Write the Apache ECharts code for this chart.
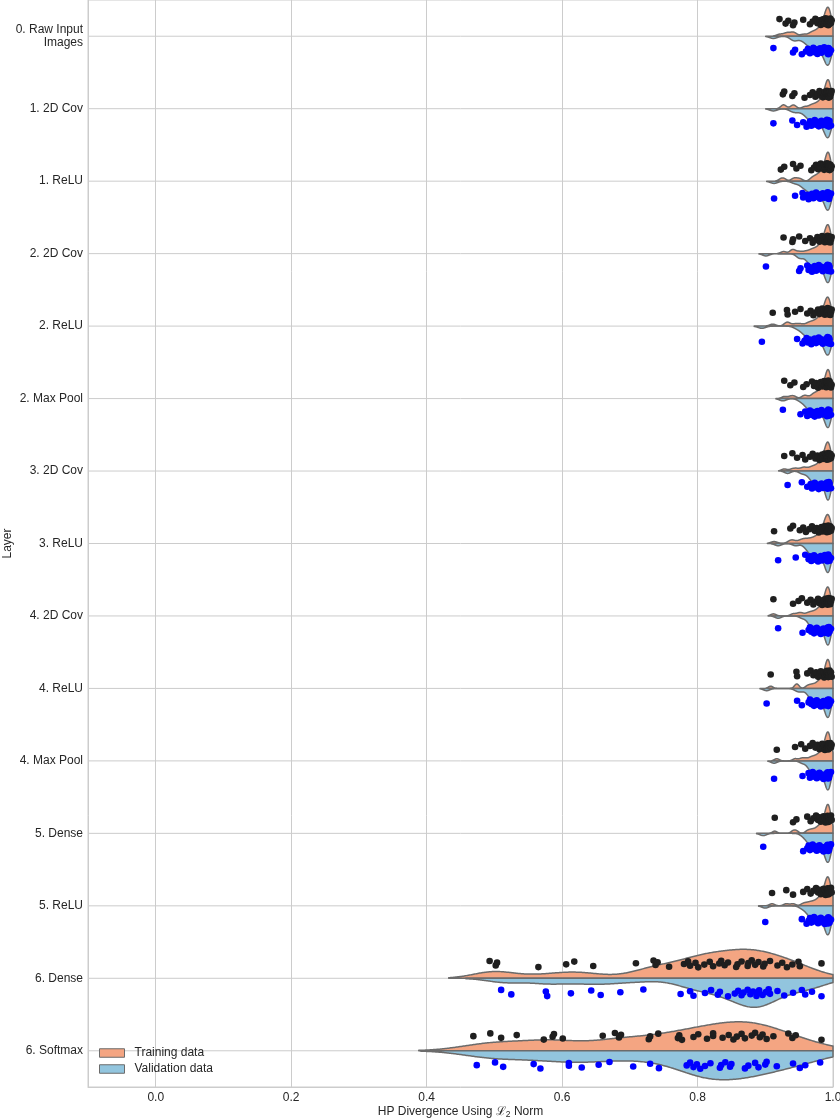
<!DOCTYPE html>
<html><head><meta charset="utf-8">
<script src="https://cdn.jsdelivr.net/npm/echarts@6/dist/echarts.min.js"></script>
<style>html,body{margin:0;padding:0;background:#fff}#chart{width:840px;height:1120px}</style>
</head><body><div id="chart"></div>
<script>
// ---------------- DATA ----------------
const categories = ['0. Raw Input\nImages', '1. 2D Cov', '1. ReLU', '2. 2D Cov', '2. ReLU', '2. Max Pool',
  '3. 2D Cov', '3. ReLU', '4. 2D Cov', '4. ReLU', '4. Max Pool', '5. Dense', '5. ReLU', '6. Dense', '6. Softmax'];

const trainValues = [
  [0.921,0.930,0.934,0.941,0.943,0.956,0.966,0.970,0.974,0.977,0.980,0.982,0.984,0.985,0.987,0.988,0.989,0.990,0.991,0.991,0.992,0.992,0.993,0.993,0.993,0.994,0.994,0.995,0.995,0.996,0.997,0.998],
  [0.926,0.928,0.940,0.943,0.958,0.966,0.970,0.974,0.977,0.980,0.982,0.984,0.985,0.987,0.988,0.989,0.990,0.991,0.991,0.992,0.992,0.993,0.993,0.993,0.994,0.994,0.995,0.995,0.996,0.997,0.998],
  [0.923,0.928,0.941,0.946,0.952,0.968,0.972,0.975,0.978,0.980,0.982,0.984,0.986,0.987,0.988,0.989,0.990,0.991,0.991,0.992,0.992,0.993,0.993,0.993,0.994,0.994,0.995,0.995,0.996,0.997,0.998],
  [0.927,0.940,0.941,0.950,0.959,0.966,0.970,0.974,0.977,0.980,0.982,0.984,0.985,0.987,0.988,0.989,0.990,0.991,0.991,0.992,0.992,0.993,0.993,0.993,0.994,0.994,0.995,0.996,0.997,0.998],
  [0.911,0.932,0.933,0.944,0.952,0.962,0.967,0.971,0.975,0.978,0.980,0.982,0.984,0.986,0.987,0.988,0.989,0.990,0.991,0.991,0.992,0.992,0.993,0.993,0.993,0.994,0.994,0.995,0.996,0.997,0.998],
  [0.928,0.937,0.943,0.956,0.961,0.969,0.972,0.975,0.978,0.980,0.982,0.984,0.985,0.987,0.988,0.989,0.990,0.991,0.991,0.992,0.992,0.993,0.993,0.993,0.994,0.994,0.995,0.995,0.996,0.997,0.998],
  [0.928,0.940,0.947,0.955,0.959,0.966,0.970,0.974,0.977,0.980,0.982,0.984,0.985,0.987,0.988,0.989,0.990,0.991,0.991,0.992,0.992,0.993,0.993,0.993,0.994,0.994,0.995,0.996,0.997,0.998],
  [0.913,0.937,0.941,0.951,0.956,0.960,0.965,0.969,0.973,0.976,0.979,0.981,0.983,0.985,0.987,0.988,0.989,0.990,0.991,0.991,0.992,0.992,0.993,0.993,0.993,0.994,0.994,0.995,0.996,0.997,0.998],
  [0.912,0.941,0.949,0.954,0.962,0.967,0.971,0.975,0.978,0.980,0.982,0.984,0.986,0.987,0.988,0.989,0.990,0.991,0.991,0.992,0.992,0.993,0.993,0.993,0.994,0.994,0.995,0.996,0.997,0.998],
  [0.908,0.946,0.947,0.962,0.967,0.971,0.975,0.978,0.980,0.982,0.984,0.986,0.987,0.988,0.989,0.990,0.991,0.991,0.992,0.992,0.993,0.993,0.993,0.994,0.994,0.995,0.996,0.997,0.998],
  [0.917,0.944,0.953,0.959,0.966,0.970,0.974,0.977,0.980,0.982,0.984,0.985,0.987,0.988,0.989,0.990,0.991,0.991,0.992,0.992,0.993,0.993,0.993,0.994,0.994,0.995,0.996,0.997,0.998],
  [0.914,0.941,0.946,0.962,0.967,0.971,0.975,0.978,0.980,0.982,0.984,0.986,0.987,0.988,0.989,0.990,0.991,0.991,0.992,0.992,0.993,0.993,0.993,0.994,0.994,0.995,0.996,0.997,0.998],
  [0.910,0.931,0.941,0.956,0.962,0.967,0.971,0.975,0.978,0.980,0.982,0.984,0.986,0.987,0.988,0.989,0.990,0.991,0.991,0.992,0.992,0.993,0.993,0.993,0.994,0.994,0.995,0.996,0.997,0.998],
  [0.493,0.502,0.504,0.565,0.606,0.618,0.646,0.709,0.735,0.738,0.741,0.758,0.780,0.786,0.789,0.797,0.801,0.810,0.818,0.823,0.832,0.835,0.840,0.845,0.857,0.859,0.865,0.874,0.875,0.880,0.885,0.890,0.897,0.899,0.907,0.918,0.925,0.932,0.940,0.949,0.951,0.983],
  [0.469,0.494,0.510,0.533,0.573,0.586,0.588,0.601,0.660,0.678,0.684,0.687,0.728,0.730,0.742,0.771,0.773,0.777,0.794,0.801,0.814,0.823,0.823,0.837,0.846,0.853,0.858,0.865,0.870,0.880,0.885,0.892,0.896,0.902,0.912,0.934,0.940,0.945,0.983]
];

const validationValues = [
  [0.912,0.941,0.944,0.954,0.960,0.963,0.966,0.968,0.971,0.973,0.975,0.977,0.979,0.981,0.983,0.985,0.987,0.991,0.992,0.992,0.992,0.993,0.993,0.993,0.993,0.994,0.994,0.995,0.997],
  [0.912,0.940,0.947,0.956,0.961,0.964,0.966,0.968,0.971,0.973,0.975,0.977,0.979,0.981,0.983,0.985,0.987,0.991,0.992,0.992,0.992,0.993,0.993,0.993,0.993,0.994,0.994,0.995,0.997],
  [0.913,0.944,0.955,0.956,0.962,0.964,0.966,0.969,0.971,0.973,0.975,0.977,0.979,0.981,0.983,0.985,0.987,0.991,0.992,0.992,0.992,0.993,0.993,0.993,0.993,0.994,0.994,0.995,0.997],
  [0.901,0.950,0.952,0.962,0.964,0.966,0.969,0.971,0.973,0.975,0.977,0.979,0.981,0.983,0.985,0.987,0.991,0.992,0.992,0.992,0.993,0.993,0.993,0.993,0.994,0.994,0.995,0.997],
  [0.895,0.947,0.955,0.958,0.961,0.963,0.966,0.968,0.971,0.973,0.975,0.977,0.979,0.981,0.983,0.985,0.987,0.991,0.992,0.992,0.992,0.993,0.993,0.993,0.993,0.994,0.994,0.995,0.997],
  [0.926,0.952,0.959,0.962,0.964,0.966,0.969,0.971,0.973,0.975,0.977,0.979,0.981,0.983,0.985,0.987,0.991,0.992,0.992,0.992,0.993,0.993,0.993,0.993,0.994,0.994,0.995,0.997],
  [0.933,0.954,0.962,0.967,0.969,0.971,0.973,0.975,0.977,0.979,0.981,0.983,0.985,0.987,0.991,0.992,0.992,0.992,0.993,0.993,0.993,0.993,0.994,0.994,0.995,0.997],
  [0.919,0.945,0.959,0.964,0.966,0.968,0.970,0.972,0.974,0.976,0.978,0.980,0.982,0.984,0.986,0.988,0.991,0.992,0.992,0.992,0.993,0.993,0.993,0.993,0.994,0.994,0.995,0.997],
  [0.919,0.955,0.964,0.966,0.968,0.970,0.972,0.974,0.976,0.978,0.980,0.982,0.984,0.986,0.988,0.991,0.992,0.992,0.992,0.993,0.993,0.993,0.993,0.994,0.994,0.995,0.997],
  [0.902,0.947,0.954,0.964,0.966,0.968,0.970,0.972,0.974,0.976,0.978,0.980,0.982,0.984,0.986,0.988,0.991,0.992,0.992,0.992,0.993,0.993,0.993,0.993,0.994,0.994,0.995,0.997],
  [0.913,0.955,0.964,0.966,0.968,0.970,0.972,0.974,0.976,0.978,0.980,0.982,0.984,0.986,0.988,0.991,0.992,0.992,0.992,0.993,0.993,0.993,0.993,0.994,0.994,0.995,0.997],
  [0.897,0.956,0.962,0.964,0.966,0.968,0.970,0.972,0.974,0.976,0.978,0.980,0.982,0.984,0.986,0.988,0.991,0.992,0.992,0.992,0.993,0.993,0.993,0.993,0.994,0.994,0.995,0.997],
  [0.900,0.954,0.961,0.964,0.966,0.968,0.970,0.972,0.974,0.976,0.978,0.980,0.982,0.984,0.986,0.988,0.991,0.992,0.992,0.992,0.993,0.993,0.993,0.993,0.994,0.994,0.995,0.997],
  [0.510,0.525,0.576,0.578,0.613,0.643,0.657,0.686,0.720,0.775,0.789,0.794,0.811,0.820,0.830,0.833,0.845,0.855,0.860,0.865,0.868,0.874,0.878,0.882,0.887,0.890,0.891,0.896,0.901,0.905,0.907,0.918,0.928,0.941,0.954,0.959,0.969,0.983],
  [0.474,0.501,0.513,0.558,0.568,0.610,0.610,0.629,0.654,0.670,0.705,0.730,0.743,0.784,0.789,0.794,0.799,0.804,0.811,0.819,0.833,0.835,0.841,0.848,0.850,0.870,0.875,0.885,0.890,0.900,0.902,0.917,0.941,0.951,0.959,0.981]
];

const seriesNames = ['Training data', 'Validation data'];

// ---------------- STYLE ----------------
const FONT = '"Liberation Sans", Arial, sans-serif';
const TEXT = '#262626';
const GRIDC = '#cccccc';
const TRAIN_FILL = '#f4a582', VALID_FILL = '#92c5de', EDGE = '#6b6b6b';
const TRAIN_DOT = '#1f1f1f', VALID_DOT = '#0000ff';
const X_MIN = -0.1, X_MAX = 1.0;
const BW_ADJ = 0.6, CUT = 2, HALF = 0.4, DOT_OFF = 0.2, JIT = 0.05;

// ---------------- KDE (derived from the values; robust Silverman-style spread) ----------------
function quantile(sorted, q) {
  const p = (sorted.length - 1) * q, i = Math.floor(p), f = p - i;
  return i + 1 < sorted.length ? sorted[i] * (1 - f) + sorted[i + 1] * f : sorted[i];
}
function kde(vals) {
  const n = vals.length;
  const s = vals.slice().sort((a, b) => a - b);
  const mean = vals.reduce((a, b) => a + b, 0) / n;
  const sd = Math.sqrt(vals.reduce((a, b) => a + (b - mean) * (b - mean), 0) / (n - 1));
  const iqr = (quantile(s, 0.75) - quantile(s, 0.25)) / 1.349;
  const bw = BW_ADJ * Math.pow(n, -0.2) * Math.min(sd, iqr);
  const lo = s[0] - CUT * bw, hi = s[n - 1] + CUT * bw;
  const N = 400, xs = [], ds = [];
  for (let i = 0; i < N; i++) {
    const x = lo + (hi - lo) * i / (N - 1);
    let t = 0;
    for (const v of vals) { const z = (x - v) / bw; t += Math.exp(-0.5 * z * z); }
    xs.push(x); ds.push(t / (n * bw * Math.sqrt(2 * Math.PI)));
  }
  return { xs, ds, max: Math.max(...ds) };
}
const trainKde = trainValues.map(kde);
const validKde = validationValues.map(kde);

function violinRender(side, kdes, fill) {
  return function (params, api) {
    const idx = api.value(0);
    const k = kdes[idx];
    const norm = k.max;               // each half scaled to the full width
    const band = api.size([0, 1])[1];
    const cy = api.coord([0, idx])[1];
    const pts = [];
    for (let i = 0; i < k.xs.length; i++) {
      let x = k.xs[i], d = k.ds[i];
      if (x > X_MAX) {
        const x0 = k.xs[i - 1], d0 = k.ds[i - 1];
        d = d0 + (d - d0) * (X_MAX - x0) / (x - x0);
        x = X_MAX;
        pts.push([api.coord([x, idx])[0], cy + side * HALF * band * d / norm]);
        break;
      }
      pts.push([api.coord([x, idx])[0], cy + side * HALF * band * d / norm]);
    }
    const last = pts[pts.length - 1][0], first = pts[0][0];
    pts.push([last, cy]);
    pts.push([first, cy]);
    return { type: 'polygon', shape: { points: pts },
      style: { fill: fill, stroke: EDGE, lineWidth: 1.5, lineJoin: 'round' } };
  };
}

function dotData(groups) {
  const out = [];
  groups.forEach((vals, idx) => vals.forEach((v, k) => {
    const frac = ((k * 0.6180339887 + idx * 0.3819660113 + 0.137) % 1);
    out.push([v, idx, (frac - 0.5) * 2 * JIT]);
  }));
  return out;
}
function dotRender(side, color) {
  return function (params, api) {
    const idx = api.value(1);
    const band = api.size([0, 1])[1];
    const p = api.coord([api.value(0), idx]);
    return { type: 'circle', shape: { cx: p[0], cy: p[1] + (side * DOT_OFF + api.value(2)) * band, r: 3.3 },
      style: { fill: color } };
  };
}

const catIdx = categories.map((c, i) => [i]);

const chart = echarts.init(document.getElementById('chart'), null, { renderer: 'canvas' });
chart.setOption({
  animation: false,
  backgroundColor: '#ffffff',
  textStyle: { fontFamily: FONT, color: TEXT },
  grid: { left: 88, right: 7, top: 0, bottom: 33, show: true, borderColor: GRIDC, borderWidth: 1,
    containLabel: false, outerBoundsMode: 'none' },
  legend: {
    orient: 'vertical', left: 94, top: 1042, itemWidth: 25, itemHeight: 8.5, itemGap: 4,
    icon: 'rect',
    textStyle: { fontSize: 12, color: TEXT, fontFamily: FONT, padding: [0, 0, 0, 5] },
    data: [
      { name: seriesNames[0], itemStyle: { color: TRAIN_FILL, borderColor: EDGE, borderWidth: 1 } },
      { name: seriesNames[1], itemStyle: { color: VALID_FILL, borderColor: EDGE, borderWidth: 1 } }
    ]
  },
  xAxis: {
    type: 'value', min: X_MIN, max: X_MAX,
    axisLine: { show: true, lineStyle: { color: GRIDC } },
    axisTick: { show: false },
    axisLabel: { fontSize: 12, color: TEXT, margin: 5, showMinLabel: false, fontFamily: FONT,
      formatter: v => v.toFixed(1) },
    splitLine: { show: true, lineStyle: { color: GRIDC, width: 1 } },
    name: 'HP Divergence Using ℒ{sub|2} Norm', nameLocation: 'middle', nameGap: 17, nameMoveOverlap: false,
    nameTextStyle: { fontSize: 12, color: TEXT, fontFamily: FONT,
      rich: { sub: { fontSize: 8.5, verticalAlign: 'bottom', padding: [6, 0, 0, 0], fontFamily: FONT, color: TEXT } } }
  },
  yAxis: {
    type: 'category', data: categories, inverse: true,
    axisLine: { show: true, lineStyle: { color: GRIDC } },
    axisTick: { show: false },
    splitLine: { show: false },
    axisLabel: { fontSize: 12, color: TEXT, margin: 5, lineHeight: 13.5, align: 'right', fontFamily: FONT },
    name: 'Layer', nameLocation: 'middle', nameGap: 74, nameRotate: 90, nameMoveOverlap: false,
    nameTextStyle: { fontSize: 12, color: TEXT, fontFamily: FONT }
  },
  series: [
    { type: 'custom', name: 'grid', silent: true, z: 1, data: catIdx,
      renderItem: (params, api) => {
        const cy = api.coord([0, api.value(0)])[1];
        const cs = params.coordSys;
        return { type: 'line', shape: { x1: cs.x, y1: cy, x2: cs.x + cs.width, y2: cy },
          style: { stroke: GRIDC, lineWidth: 1 } };
      } },
    { type: 'custom', name: seriesNames[0], z: 2, data: catIdx, itemStyle: { color: TRAIN_FILL },
      renderItem: violinRender(-1, trainKde, TRAIN_FILL) },
    { type: 'custom', name: seriesNames[1], z: 2, data: catIdx, itemStyle: { color: VALID_FILL },
      renderItem: violinRender(1, validKde, VALID_FILL) },
    { type: 'custom', name: 'train points', z: 3, data: dotData(trainValues),
      renderItem: dotRender(-1, TRAIN_DOT) },
    { type: 'custom', name: 'validation points', z: 3, data: dotData(validationValues),
      renderItem: dotRender(1, VALID_DOT) }
  ]
});
</script></body></html>
